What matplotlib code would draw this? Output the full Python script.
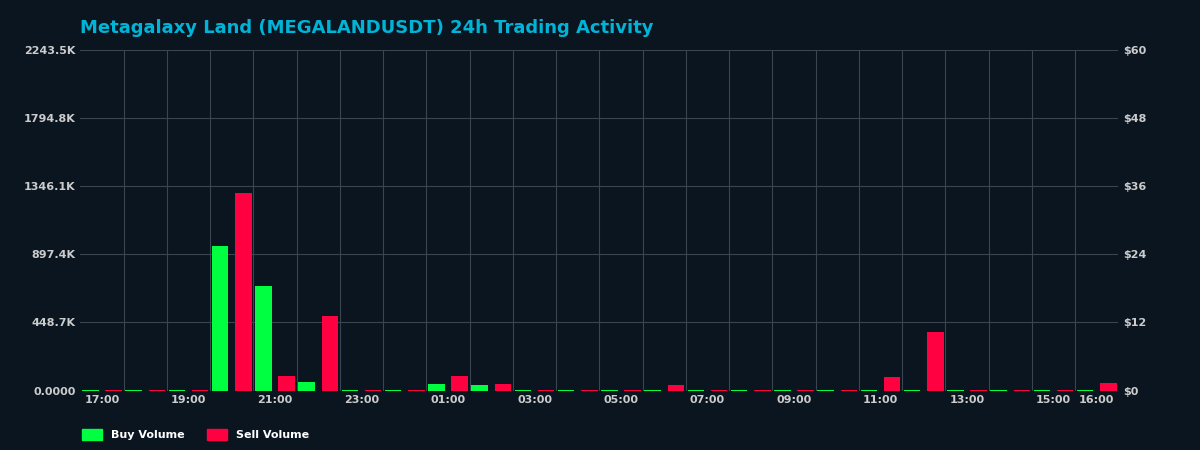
import numpy as np
import matplotlib.pyplot as plt
from matplotlib.patches import Patch

hours = ["17:00", "18:00", "19:00", "20:00", "21:00", "22:00", "23:00", "00:00",
         "01:00", "02:00", "03:00", "04:00", "05:00", "06:00", "07:00", "08:00",
         "09:00", "10:00", "11:00", "12:00", "13:00", "14:00", "15:00", "16:00"]
buy = [4, 4, 4, 950, 686, 59, 4, 4, 46, 40, 4, 4, 4, 4, 4, 4,
       4, 4, 4, 4, 4, 4, 4, 4]
sell = [4, 4, 4, 1300, 99, 488, 4, 4, 99, 46, 4, 4, 4, 40, 4, 4,
        4, 4, 92, 383, 4, 4, 4, 53]

bg = "#0b1520"
x = np.arange(len(hours))
fig, ax = plt.subplots(figsize=(12, 4.5), dpi=100)
fig.patch.set_facecolor(bg)
ax.set_facecolor(bg)
fig.subplots_adjust(left=0.067, right=0.932, top=0.89, bottom=0.132)

ax.bar(x - 0.27, buy, width=0.38, color="#00ff41", zorder=3)
ax.bar(x + 0.27, sell, width=0.38, color="#ff0040", zorder=3)

ax.set_xlim(-0.5, len(hours) - 0.5)
ax.set_ylim(0, 2243.5)
yt = np.linspace(0, 2243.5, 6)
ax.set_yticks(yt)
ax.set_yticklabels(["0.0000"] + [f"{v:.1f}K" for v in yt[1:]])
lab_idx = list(range(0, 23, 2)) + [23]
ax.set_xticks(lab_idx)
ax.set_xticklabels([hours[i] for i in lab_idx])
ax.set_xticks(np.arange(0.5, len(hours) - 0.5), minor=True)
ax.grid(True, which="minor", axis="x", color="#3a4550", lw=0.8)
ax.grid(True, which="major", axis="y", color="#3a4550", lw=0.8)
ax.tick_params(which="both", length=0)
ax.tick_params(colors="#cccccc", labelsize=8)
for s in ax.spines.values():
    s.set_visible(False)
for t in ax.get_xticklabels() + ax.get_yticklabels():
    t.set_fontweight("bold")

ax2 = ax.twinx()
ax2.set_ylim(0, 60)
ax2.set_yticks(np.arange(0, 61, 12))
ax2.set_yticklabels([f"${v}" for v in range(0, 61, 12)])
ax2.tick_params(length=0, colors="#cccccc", labelsize=8)
for t in ax2.get_yticklabels():
    t.set_fontweight("bold")
for s in ax2.spines.values():
    s.set_visible(False)

ax.set_title("Metagalaxy Land (MEGALANDUSDT) 24h Trading Activity", loc="left",
             color="#00b4d8", fontsize=13, fontweight="bold", pad=12)
handles = [Patch(color="#00ff41", label="Buy Volume"), Patch(color="#ff0040", label="Sell Volume")]
leg = fig.legend(handles=handles, loc="lower left", bbox_to_anchor=(0.06, 0.0), ncol=2,
                 frameon=False, fontsize=8, handlelength=1.8, handleheight=1.2)
for t in leg.get_texts():
    t.set_color("white")
    t.set_fontweight("bold")

fig.savefig("out.png", facecolor=bg)
